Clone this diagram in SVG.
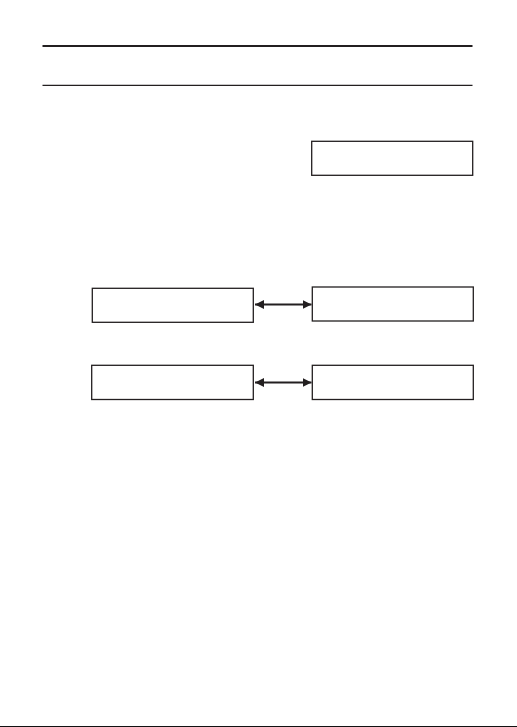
<svg xmlns="http://www.w3.org/2000/svg" width="517" height="727" viewBox="0 0 517 727">
<style>
.box{fill:#fff;stroke:#231f20;stroke-width:1.3}
.rule{stroke:#231f20}
.conn{stroke:#231f20;stroke-width:2;fill:none}
</style>
<defs>
<marker id="ah" viewBox="0 0 10 10" refX="10" refY="5" markerWidth="9" markerHeight="9" markerUnits="userSpaceOnUse" orient="auto-start-reverse">
<path d="M0,0 L10,5 L0,10 z" fill="#231f20"/>
</marker>
</defs>
<rect width="517" height="727" fill="#fff"/>
<g id="rules">
<line class="rule" x1="42.5" y1="46" x2="472.5" y2="46" stroke-width="2.2"/>
<line class="rule" x1="42.5" y1="85.3" x2="472.5" y2="85.3" stroke-width="1.2"/>
</g>
<g id="node-top"><rect class="box" x="311.7" y="141.3" width="161" height="34"/></g>
<g id="node-a1"><rect class="box" x="92.3" y="288.3" width="161" height="34"/></g>
<g id="node-b1"><rect class="box" x="312.3" y="287" width="161" height="34"/></g>
<g id="node-a2"><rect class="box" x="91.7" y="365.3" width="161.6" height="34.2"/></g>
<g id="node-b2"><rect class="box" x="312.3" y="365.3" width="161" height="34.2"/></g>
<g id="connectors">
<line class="conn" x1="255" y1="304.5" x2="311.5" y2="304.5" marker-start="url(#ah)" marker-end="url(#ah)"/>
<line class="conn" x1="255" y1="382.5" x2="311.5" y2="382.5" marker-start="url(#ah)" marker-end="url(#ah)"/>
</g>
<line x1="0" y1="726.5" x2="517" y2="726.5" stroke="#111" stroke-width="1"/>
</svg>
